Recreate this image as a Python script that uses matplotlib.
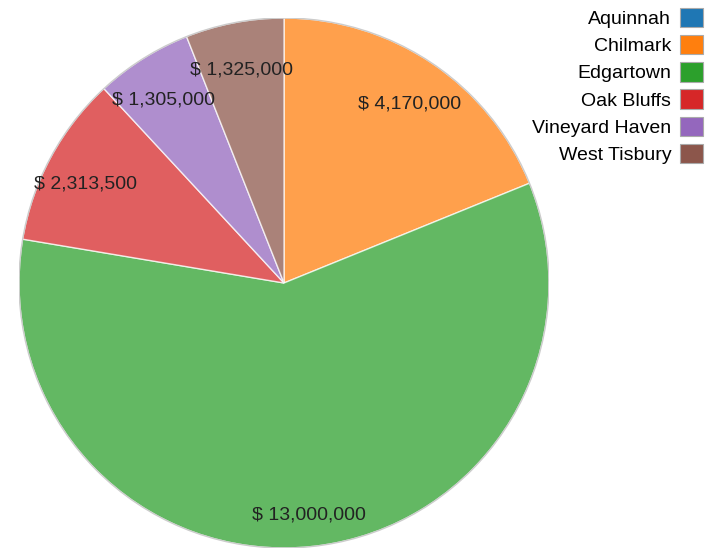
import matplotlib.pyplot as plt
import numpy as np
from matplotlib.patches import Patch, Circle

plt.rcParams['font.family'] = ['Liberation Sans', 'DejaVu Sans']

# Дані
towns = ['Aquinnah', 'Chilmark', 'Edgartown', 'Oak Bluffs', 'Vineyard Haven', 'West Tisbury']
values = [0, 4170000, 13000000, 2313500, 1305000, 1325000]
colors = ['#1f77b4', '#ff7f0e', '#2ca02c', '#d62728', '#9467bd', '#8c564b']

fig = plt.figure(figsize=(7.16, 5.48), dpi=100)
cx, cy, r = 284, 283, 265
W, H = 716, 548
ax = fig.add_axes([(cx - r) / W, (H - cy - r) / H, 2 * r / W, 2 * r / H])

wedges, _ = ax.pie(values, colors=colors, startangle=90, counterclock=False,
                   radius=1, wedgeprops=dict(edgecolor='white', linewidth=1, alpha=0.74))
ax.add_patch(Circle((0, 0), 1, fill=False, edgecolor='#cccccc', linewidth=1))

# Підписи
for w, v in zip(wedges, values):
    if v == 0:
        continue
    mid = np.deg2rad((w.theta1 + w.theta2) / 2)
    ax.text(0.85 * np.cos(mid), 0.85 * np.sin(mid) - 0.03, f'$ {v:,}',
            ha='center', va='center', fontsize=14, color='#222222')

ax.set_xlim(-1.0, 1.0)
ax.set_ylim(-1.0, 1.0)
ax.set_aspect('equal')
ax.axis('off')

handles = [Patch(facecolor=c, edgecolor='#aaaaaa', linewidth=0.8) for c in colors]
fig.legend(handles, towns, loc='upper right', bbox_to_anchor=(0.993, 1.0),
           markerfirst=False, frameon=False, fontsize=14,
           handlelength=1.2, handleheight=1.15, handletextpad=0.45,
           labelspacing=0.36, borderaxespad=0.0)

fig.savefig('out.png', dpi=100)
